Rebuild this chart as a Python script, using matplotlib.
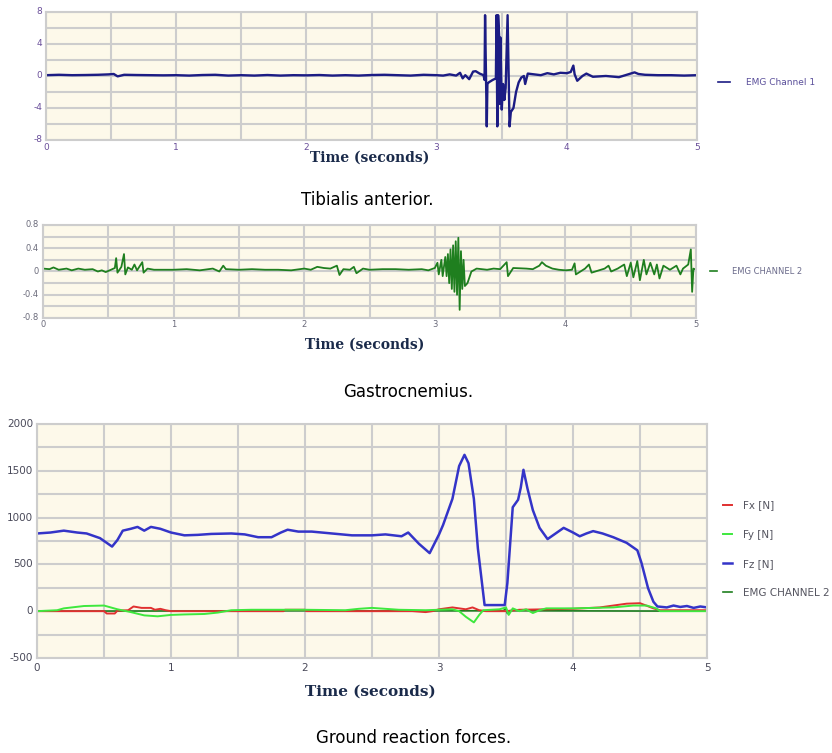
import matplotlib
matplotlib.use("Agg")
import matplotlib.pyplot as plt
from matplotlib.lines import Line2D
from matplotlib import font_manager

# Datos
# Panel 1: EMG canal 1 (tibial anterior)
emg1_t = [0.00, 0.10, 0.20, 0.30, 0.40, 0.48, 0.52, 0.55, 0.60, 0.70, 0.80, 0.90, 1.00, 1.10,
          1.20, 1.30, 1.40, 1.50, 1.60, 1.70, 1.80, 1.90, 2.00, 2.10, 2.20, 2.30, 2.40, 2.50,
          2.60, 2.70, 2.80, 2.90, 3.00, 3.05, 3.10, 3.15, 3.18, 3.20, 3.22, 3.25, 3.28, 3.30,
          3.33, 3.36, 3.368, 3.372, 3.385, 3.39, 3.40, 3.43, 3.455, 3.46, 3.466, 3.472, 3.48,
          3.485, 3.49, 3.50, 3.51, 3.52, 3.53, 3.545, 3.56, 3.57, 3.59, 3.61, 3.63, 3.65, 3.67,
          3.68, 3.70, 3.75, 3.80, 3.85, 3.90, 3.95, 4.00, 4.03, 4.05, 4.06, 4.08, 4.12, 4.15,
          4.20, 4.30, 4.40, 4.45, 4.52, 4.55, 4.60, 4.70, 4.80, 4.90, 5.00]
emg1_v = [0.10, 0.15, 0.10, 0.12, 0.15, 0.20, 0.25, -0.05, 0.15, 0.12, 0.10, 0.08, 0.10, 0.05,
          0.12, 0.15, 0.05, 0.10, 0.05, 0.12, 0.05, 0.10, 0.08, 0.12, 0.05, 0.10, 0.05, 0.12,
          0.15, 0.10, 0.05, 0.15, 0.10, 0.05, 0.20, 0.05, 0.40, -0.30, 0.10, -0.40, 0.55, 0.60,
          0.30, 0.10, -0.50, 7.60, -6.30, -1.00, -0.80, -0.50, -0.30, 7.60, -6.30, 7.60, 5.00,
          -3.50, 4.80, -4.20, -1.00, -3.00, -1.50, 7.60, -6.30, -4.50, -4.00, -2.00, -0.80, -0.20, 0.00,
          -1.00, 0.30, 0.20, 0.10, 0.35, 0.20, 0.40, 0.35, 0.50, 1.30, 0.20, -0.60, 0.00, 0.30,
          -0.10, 0.00, -0.15, 0.10, 0.45, 0.25, 0.15, 0.10, 0.10, 0.05, 0.10]

# Panel 2: EMG canal 2 (gastrocnemio)
emg2_t = [0.00, 0.05, 0.08, 0.12, 0.18, 0.22, 0.27, 0.32, 0.38, 0.42, 0.45, 0.48, 0.52, 0.55,
          0.56, 0.57, 0.60, 0.62, 0.63, 0.65, 0.68, 0.70, 0.72, 0.76, 0.77, 0.80, 0.85, 1.00,
          1.10, 1.20, 1.30, 1.35, 1.38, 1.40, 1.50, 1.60, 1.70, 1.80, 1.90, 2.00, 2.05, 2.10,
          2.15, 2.20, 2.25, 2.27, 2.30, 2.35, 2.38, 2.40, 2.45, 2.50, 2.60, 2.70, 2.80, 2.90,
          2.95, 3.00, 3.02, 3.03, 3.05, 3.06, 3.08, 3.09, 3.10, 3.11, 3.12, 3.13, 3.14, 3.15,
          3.16, 3.17, 3.18, 3.19, 3.20, 3.21, 3.22, 3.23, 3.25, 3.28, 3.32, 3.40, 3.45, 3.50,
          3.55, 3.56, 3.60, 3.70, 3.75, 3.80, 3.82, 3.85, 3.90, 3.95, 4.00, 4.05, 4.07, 4.08,
          4.15, 4.18, 4.20, 4.30, 4.33, 4.35, 4.40, 4.45, 4.47, 4.50, 4.52, 4.55, 4.57, 4.60,
          4.62, 4.65, 4.68, 4.70, 4.72, 4.75, 4.80, 4.85, 4.88, 4.90, 4.94, 4.96, 4.97, 4.98, 5.00]
emg2_v = [0.05, 0.04, 0.07, 0.03, 0.05, 0.02, 0.05, 0.03, 0.04, 0.00, 0.02, -0.01, 0.03, 0.06,
          0.23, -0.02, 0.08, 0.30, -0.05, 0.07, 0.03, 0.12, 0.02, 0.16, -0.02, 0.05, 0.03, 0.03,
          0.04, 0.02, 0.05, 0.00, 0.10, 0.04, 0.03, 0.04, 0.03, 0.03, 0.02, 0.05, 0.03, 0.08,
          0.06, 0.05, 0.10, -0.06, 0.04, 0.03, 0.08, -0.03, 0.05, 0.03, 0.04, 0.04, 0.03, 0.04,
          0.02, 0.06, 0.15, -0.05, 0.20, -0.08, 0.25, -0.08, 0.30, -0.20, 0.38, -0.30, 0.45, -0.35,
          0.52, -0.40, 0.58, -0.66, 0.35, -0.30, 0.20, -0.25, -0.20, 0.00, 0.05, 0.03, 0.05, 0.04,
          0.16, -0.08, 0.06, 0.05, 0.04, 0.10, 0.16, 0.10, 0.05, 0.03, 0.02, 0.03, 0.14, -0.05,
          0.05, 0.12, -0.02, 0.05, 0.10, 0.00, 0.05, 0.12, -0.08, 0.15, -0.10, 0.18, -0.15, 0.20,
          -0.05, 0.15, -0.05, 0.12, -0.12, 0.10, 0.03, 0.10, -0.05, 0.05, 0.12, 0.38, -0.35, 0.05, 0.03]

# Panel 3: fuerzas de reaccion del suelo
fz_t = [0.00, 0.10, 0.20, 0.30, 0.37, 0.47, 0.53, 0.56, 0.60, 0.64, 0.70, 0.75, 0.80, 0.85,
        0.92, 1.00, 1.10, 1.20, 1.30, 1.45, 1.55, 1.65, 1.75, 1.82, 1.87, 1.95, 2.05, 2.20,
        2.35, 2.50, 2.60, 2.72, 2.77, 2.85, 2.93, 3.00, 3.03, 3.10, 3.15, 3.19, 3.22, 3.26,
        3.29, 3.34, 3.49, 3.51, 3.55, 3.59, 3.61, 3.63, 3.66, 3.70, 3.75, 3.81, 3.87, 3.93,
        4.00, 4.05, 4.10, 4.15, 4.22, 4.30, 4.40, 4.48, 4.51, 4.56, 4.60, 4.63, 4.70, 4.75,
        4.80, 4.85, 4.90, 4.95, 5.00]
fz_v = [830, 840, 860, 840, 830, 780, 720, 690, 760, 860, 880, 900, 860, 900,
        880, 840, 810, 815, 825, 830, 820, 790, 790, 840, 870, 850, 850, 830,
        810, 810, 820, 800, 840, 720, 620, 820, 920, 1200, 1550, 1670, 1580, 1200,
        670, 65, 65, 300, 1110, 1190, 1320, 1510, 1310, 1080, 890, 770, 830, 890,
        840, 800, 830, 855, 830, 790, 730, 650, 520, 245, 100, 50, 40, 60,
        45, 55, 35, 50, 40]

fx_t = [0.00, 0.50, 0.52, 0.58, 0.60, 0.68, 0.72, 0.78, 0.85, 0.88, 0.92, 0.96, 1.00, 1.84,
        1.85, 2.00, 2.01, 2.80, 2.90, 2.95, 3.00, 3.10, 3.20, 3.25, 3.30, 3.35, 3.50, 3.60,
        3.80, 4.00, 4.20, 4.40, 4.50, 4.60, 4.65, 5.00]
fx_v = [0, 0, -25, -25, 5, 10, 50, 35, 35, 15, 25, 10, 0, 0,
        15, 15, 0, 0, -10, 0, 20, 40, 20, 40, 10, 0, 0, 15,
        20, 25, 40, 80, 85, 30, 10, 10]

fy_t = [0.00, 0.15, 0.20, 0.35, 0.50, 0.55, 0.60, 0.70, 0.80, 0.90, 1.00, 1.10, 1.25, 1.35,
        1.45, 1.60, 2.00, 2.30, 2.40, 2.50, 2.60, 2.70, 2.90, 3.00, 3.10, 3.15, 3.20, 3.26,
        3.30, 3.33, 3.45, 3.50, 3.52, 3.55, 3.60, 3.65, 3.70, 3.75, 3.80, 4.00, 4.30, 4.45,
        4.55, 4.62, 4.65, 5.00]
fy_v = [0, 10, 30, 55, 60, 40, 20, -10, -45, -55, -40, -35, -30, -15,
        10, 15, 15, 10, 25, 35, 25, 15, 10, 15, 20, 0, -60, -120,
        -40, 10, 20, 40, -40, 30, 0, 20, -20, 10, 30, 30, 40, 60,
        60, 30, 0, 0]

emg2f_t = [0.00, 1.00, 2.00, 3.00, 3.48, 3.50, 3.51, 3.53, 4.00, 5.00]
emg2f_v = [0, 2, 4, 3, 5, 30, -25, 5, 3, 0]

ticks_x = [0, 1, 2, 3, 4, 5]

# Colores
fondo = "#fdf9ea"
rejilla = "#cdcdcd"
azul_osc = "#1c1c84"
verde_emg = "#1f7f1f"

# Buscar una fuente estrecha para el panel de fuerzas
nombres = set(f.name for f in font_manager.fontManager.ttflist)
if "Liberation Sans Narrow" in nombres:
    fuente_estrecha = "Liberation Sans Narrow"
    fs_estrecha = 9.5
    fs_leyenda = 9.5
else:
    fuente_estrecha = "DejaVu Sans"
    fs_estrecha = 7.5
    fs_leyenda = 7.5

fig = plt.figure(figsize=(8.32, 7.53), dpi=100)


def preparar(ax, ymin, ymax, paso_y, ticks_y, etiquetas_y, color_tick, fs, familia="DejaVu Sans"):
    ax.set_facecolor(fondo)
    ax.set_xlim(0, 5)
    ax.set_ylim(ymin, ymax)
    ax.set_xticks([i * 0.5 for i in range(11)])
    ax.set_yticks([ymin + i * paso_y for i in range(int(round((ymax - ymin) / paso_y)) + 1)])
    ax.grid(True, color=rejilla, linewidth=1.5)
    ax.set_axisbelow(True)
    for s in ax.spines.values():
        s.set_color(rejilla)
        s.set_linewidth(1.5)
    ax.tick_params(length=0, labelleft=False, labelbottom=False)
    # etiquetas de los ejes escritas aparte para imitar el original
    for v, txt in zip(ticks_y, etiquetas_y):
        ax.text(-0.006, v, txt, transform=ax.get_yaxis_transform(), ha="right", va="center",
                fontsize=fs, color=color_tick, family=familia)
    for v in ticks_x:
        ax.text(v, -0.02, str(v), transform=ax.get_xaxis_transform(), ha="center", va="top",
                fontsize=fs, color=color_tick, family=familia)


# Panel 1
ax1 = fig.add_axes([0.0553, 0.8141, 0.7825, 0.170])
preparar(ax1, -8, 8, 2, [8, 4, 0, -4, -8], ["8", "4", "0", "-4", "-8"], "#6a4f9a", 6.5)
ax1.plot(emg1_t, emg1_v, color=azul_osc, linewidth=1.7)
fig.text(370 / 832, 1 - 158 / 753, "Time (seconds)", ha="center", va="center",
         family="DejaVu Serif", fontweight="bold", fontsize=10, color="#1a2a4a")
ax1.legend(handles=[Line2D([], [], color=azul_osc, linewidth=1.2)], labels=["EMG Channel 1"],
           loc="center left", bbox_to_anchor=(1.02, 0.45), frameon=False, fontsize=6.5,
           handlelength=1.3, handletextpad=1.8, labelcolor="#5a4f9a")
fig.text(367 / 832, 1 - 200 / 753, "Tibialis anterior.", ha="center", va="center", fontsize=12)

# Panel 2
ax2 = fig.add_axes([0.0517, 0.5777, 0.7849, 0.1235])
preparar(ax2, -0.8, 0.8, 0.2, [0.8, 0.4, 0, -0.4, -0.8], ["0.8", "0.4", "0", "-0.4", "-0.8"],
         "#6a6a7a", 6)
ax2.plot(emg2_t, emg2_v, color=verde_emg, linewidth=1.3)
fig.text(365 / 832, 1 - 345 / 753, "Time (seconds)", ha="center", va="center",
         family="DejaVu Serif", fontweight="bold", fontsize=10, color="#1a2a4a")
ax2.legend(handles=[Line2D([], [], color=verde_emg, linewidth=1.2)], labels=["EMG CHANNEL 2"],
           loc="center left", bbox_to_anchor=(1.01, 0.50), frameon=False, fontsize=6,
           handlelength=0.8, handletextpad=1.8, labelcolor="#6a6a8a")
fig.text(408 / 832, 1 - 392 / 753, "Gastrocnemius.", ha="center", va="center", fontsize=12)

# Panel 3
ax3 = fig.add_axes([0.0445, 0.1262, 0.8053, 0.3108])
preparar(ax3, -500, 2000, 250, [2000, 1500, 1000, 500, 0, -500],
         ["2000", "1500", "1000", "500", "0", "-500"], "#4a4a5a", fs_estrecha, fuente_estrecha)
ax3.plot(emg2f_t, emg2f_v, color=verde_emg, linewidth=1.2, label="EMG CHANNEL 2")
ax3.plot(fx_t, fx_v, color="#e03030", linewidth=1.4, label="Fx [N]")
ax3.plot(fy_t, fy_v, color="#3ee83e", linewidth=1.4, label="Fy [N]")
ax3.plot(fz_t, fz_v, color="#3434c8", linewidth=1.8, label="Fz [N]")
h, l = ax3.get_legend_handles_labels()
orden = [1, 2, 3, 0]
ax3.legend([h[i] for i in orden], [l[i] for i in orden], loc="center left",
           bbox_to_anchor=(1.01, 0.465), frameon=False, handlelength=0.9,
           handletextpad=1.0, labelspacing=1.85, labelcolor="#555560",
           prop={"family": fuente_estrecha, "size": fs_leyenda})
fig.text(370 / 832, 1 - 692 / 753, "Time (seconds)", ha="center", va="center",
         family="DejaVu Serif", fontweight="bold", fontsize=11, color="#1a2a4a")
fig.text(414 / 832, 1 - 738 / 753, "Ground reaction forces.", ha="center", va="center",
         fontsize=12)

fig.savefig("out.png", dpi=100, facecolor="white")
